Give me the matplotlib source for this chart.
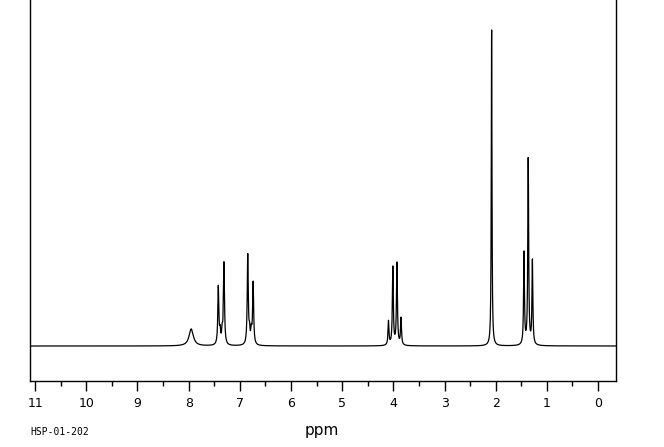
import numpy as np
import matplotlib
matplotlib.use("Agg")
import matplotlib.pyplot as plt

# Peak list (chemical shift in ppm, height in arbitrary units, half-width in ppm)
peak_ppm = [7.95, 7.42, 7.385, 7.345, 7.31, 6.845, 6.81, 6.775, 6.74,
            4.095, 4.01, 3.93, 3.85, 2.08, 1.447, 1.365, 1.283]
peak_height = [17, 58, 12, 12, 82, 90, 12, 12, 62,
               24, 78, 82, 27, 316, 92, 186, 84]
peak_width = [0.05, 0.012, 0.012, 0.012, 0.012, 0.012, 0.012, 0.012, 0.012,
              0.011, 0.011, 0.011, 0.011, 0.008, 0.010, 0.010, 0.010]

x_ticks = list(range(0, 12))
x_minor = [v + 0.5 for v in range(0, 11)]
footer = "HSP-01-202"
xlabel = "ppm"

ppm = np.linspace(-0.35, 11.1, 60000)
spec = np.zeros_like(ppm)
for p, h, w in zip(peak_ppm, peak_height, peak_width):
    spec += h / (1.0 + ((ppm - p) / w) ** 2)

fig = plt.figure(figsize=(6.64, 4.47), dpi=100)
ax = fig.add_axes([30 / 664, (447 - 381) / 447, (616 - 30) / 664, 381 / 447])
ax.plot(ppm, spec, color="black", linewidth=0.9)
ax.set_xlim(11.1, -0.35)
ax.set_ylim(-35, 346)
ax.spines["top"].set_visible(False)
for s in ["left", "right", "bottom"]:
    ax.spines[s].set_linewidth(1.0)
ax.set_yticks([])
ax.set_xticks(x_ticks)
ax.set_xticklabels([str(t) for t in x_ticks])
ax.set_xticks(x_minor, minor=True)
ax.tick_params(axis="x", which="major", direction="out", length=7.2, width=1, pad=4.5, labelsize=9)
ax.tick_params(axis="x", which="minor", direction="out", length=3.6, width=1)
fig.text(322 / 664, 1 - 430 / 447, xlabel, ha="center", va="center", fontsize=11)
fig.text(30 / 664, 1 - 432 / 447, footer, ha="left", va="center", fontsize=7, family="DejaVu Sans Mono")
fig.savefig("out.png", dpi=100)
